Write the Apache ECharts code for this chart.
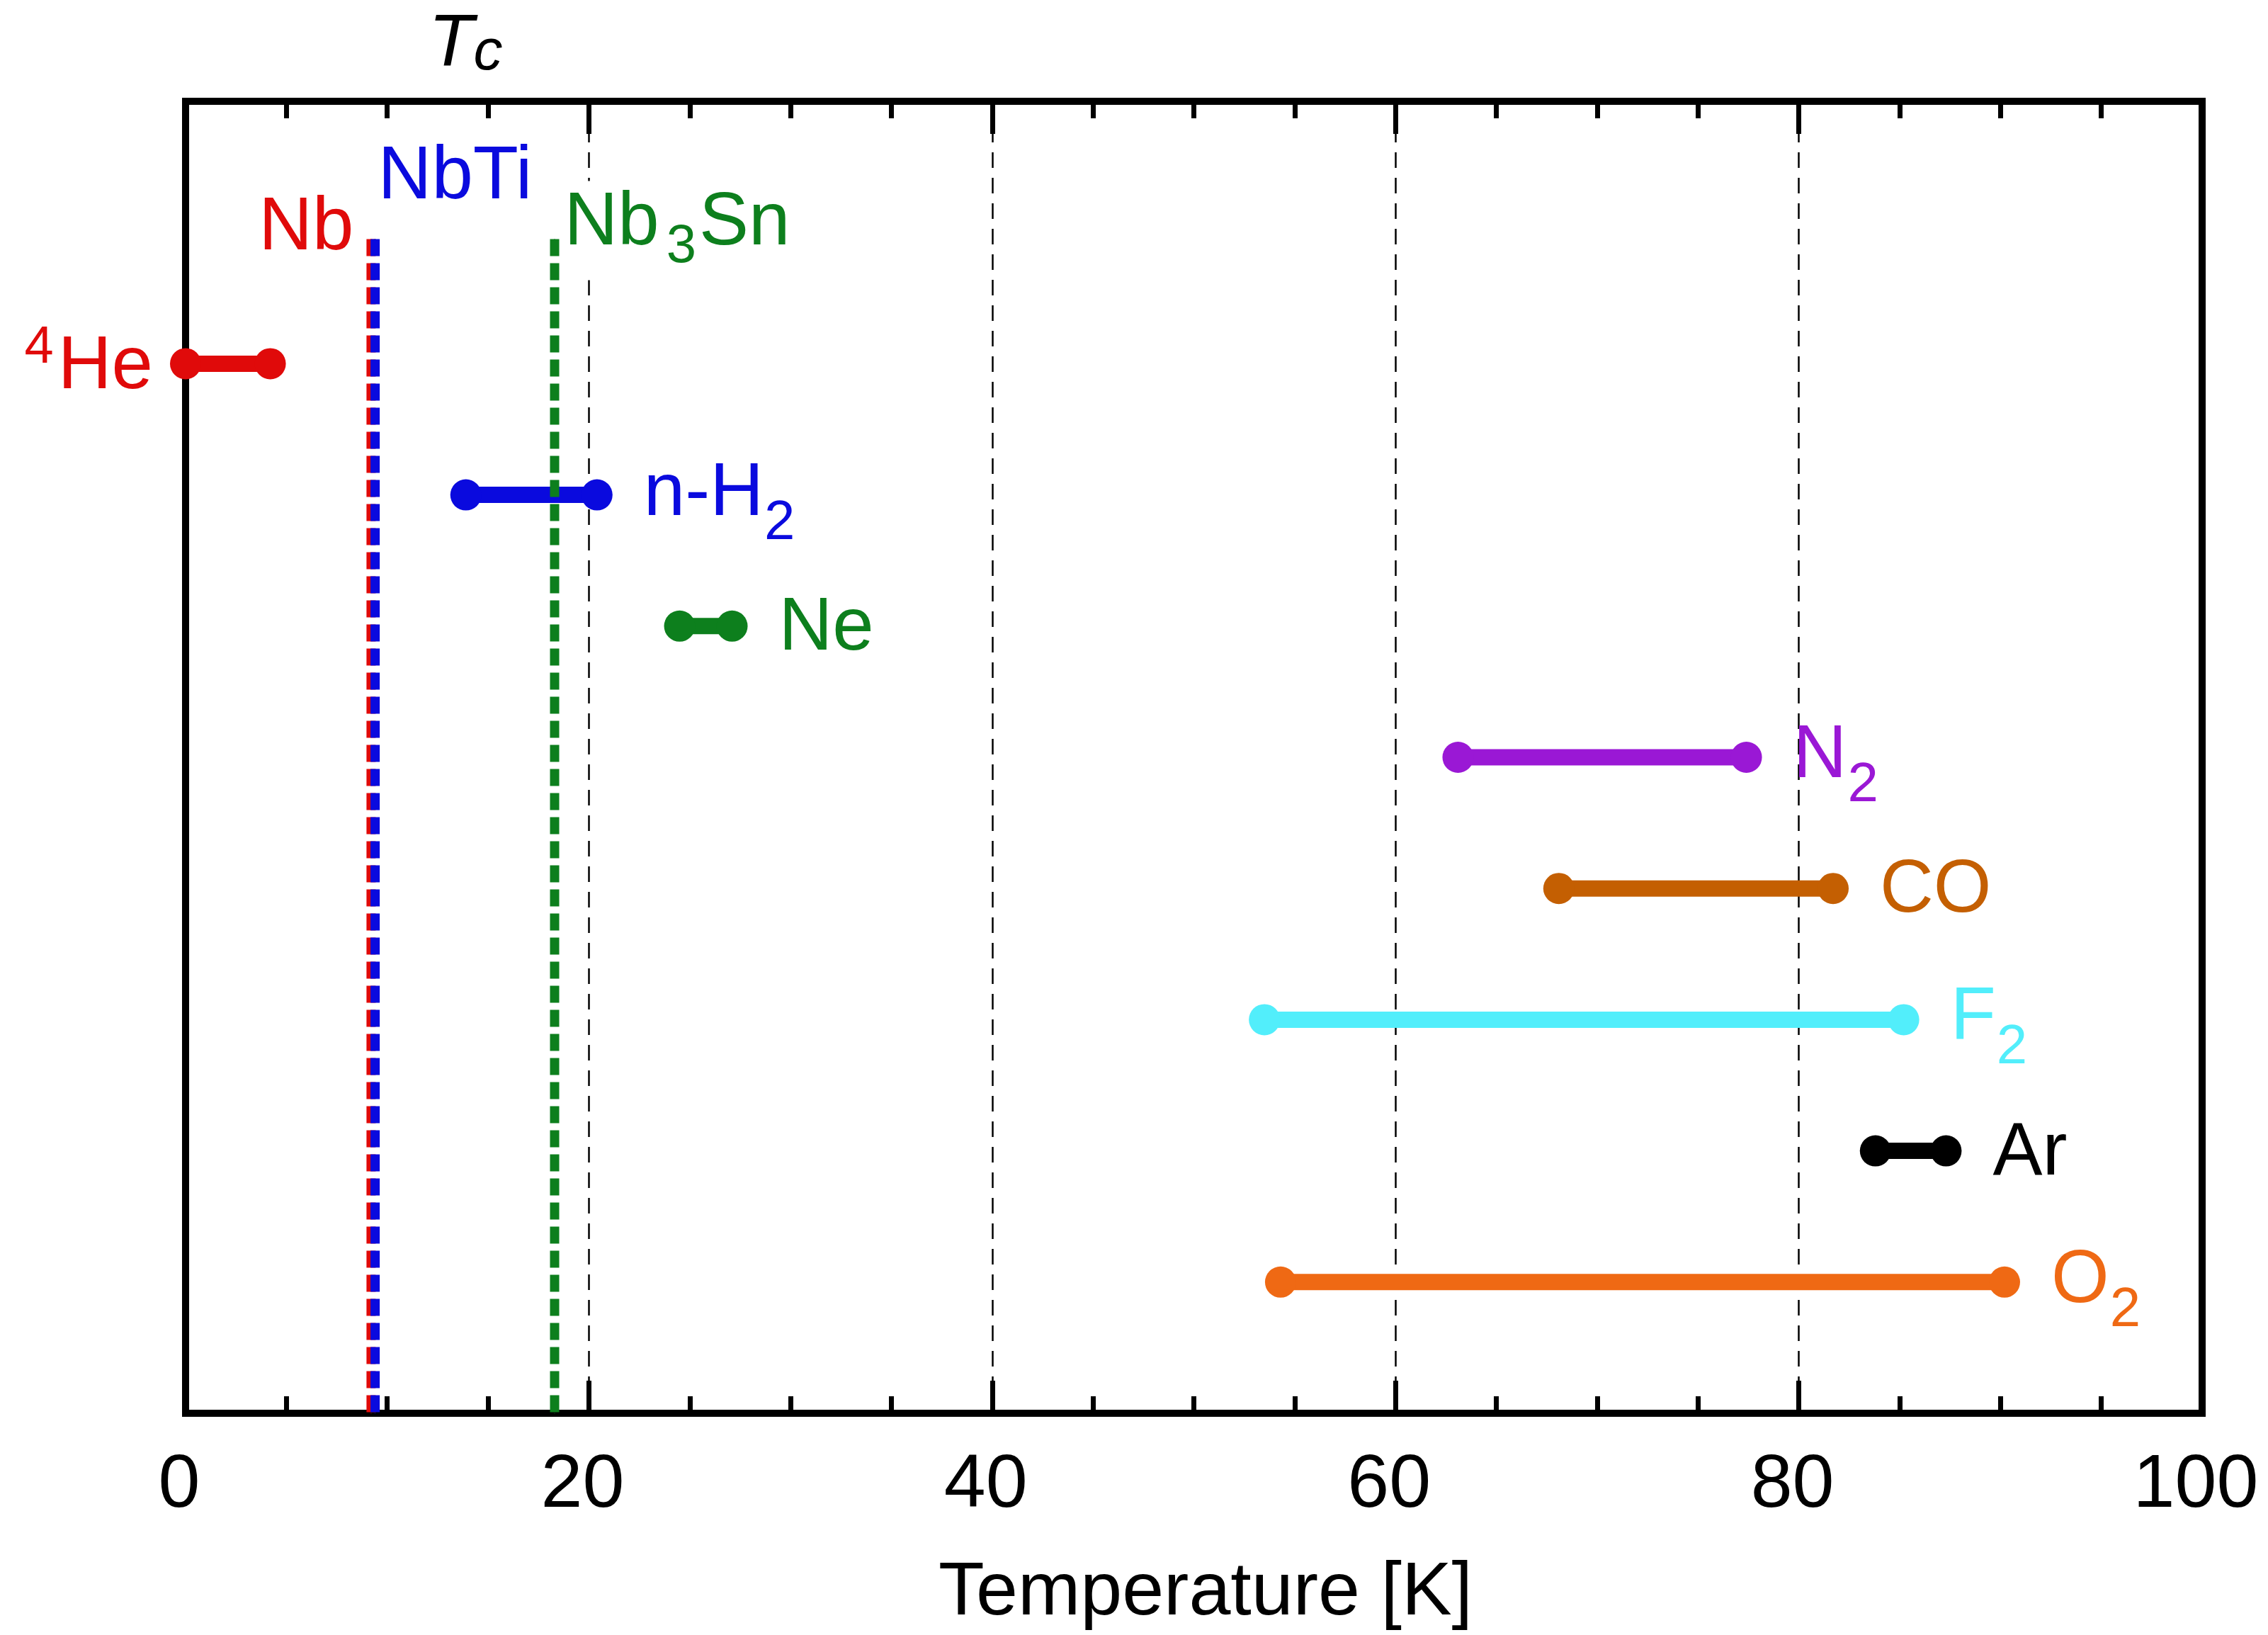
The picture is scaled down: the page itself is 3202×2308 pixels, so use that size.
<!DOCTYPE html>
<html>
<head>
<meta charset="utf-8">
<style>
html, body { margin: 0; padding: 0; background: #fff; }
#chart { width: 3202px; height: 2308px; }
</style>
<script src="https://cdn.jsdelivr.net/npm/echarts@6/dist/echarts.min.js"></script>
</head>
<body>
<div id="chart"></div>
<script>
var FONT = 'Liberation Sans';

// liquid range of each cryogen (low -> high temperature, K), one row each
var liquidNames = ['4He', 'n-H2', 'Ne', 'N2', 'CO', 'F2', 'Ar', 'O2'];
var liquidLow = [0, 13.9, 24.5, 63.1, 68.1, 53.5, 83.8, 54.3];
var liquidHigh = [4.2, 20.4, 27.1, 77.4, 81.7, 85.2, 87.3, 90.2];
var liquidRow = [8, 7, 6, 5, 4, 3, 2, 1];
var liquidColors = ['#e00a0a', '#0a0ade', '#0d7f1d', '#9a18d5', '#c45f02', '#52eefb', '#000000', '#ef6914'];

// superconductor critical temperatures (K)
var scNames = ['Nb', 'NbTi', 'Nb3Sn'];
var scTc = [9.2, 9.4, 18.3];
var scTop = 8.95;
var scColors = ['#e00a0a', '#0a0ade', '#0d7f1d'];

// x axis ticks
var xTicks = [0, 20, 40, 60, 80, 100];

// label text with sub/superscripts
var labelText = {
  '4He': '{p|4}{h|He}',
  'n-H2': '{m|n-H}{s|2}',
  'Ne': '{m|Ne}',
  'N2': '{m|N}{s|2}',
  'CO': '{m|CO}',
  'F2': '{m|F}{s|2}',
  'Ar': '{m|Ar}',
  'O2': '{m|O}{s|2}',
  'Nb': '{m|Nb}',
  'NbTi': '{m|NbTi}',
  'Nb3Sn': '{m|Nb}{t|3}{m|Sn}'
};

function richFor(color) {
  return {
    m: { fontFamily: FONT, fontSize: 105, height: 105, verticalAlign: 'top', color: color },
    h: { fontFamily: FONT, fontSize: 105, height: 105, verticalAlign: 'top', color: color, padding: [12, 0, 0, 0] },
    s: { fontFamily: FONT, fontSize: 78, height: 78, verticalAlign: 'top', color: color, padding: [55, 0, 0, 1] },
    t: { fontFamily: FONT, fontSize: 76, height: 76, verticalAlign: 'top', color: color, padding: [48, 4, 0, 10] },
    p: { fontFamily: FONT, fontSize: 74, height: 74, verticalAlign: 'top', color: color, padding: [0, 6, 0, 0] }
  };
}

var series = [];

liquidNames.forEach(function (name, i) {
  var color = liquidColors[i];
  var row = liquidRow[i];
  var hasSub = /2$/.test(name);
  var lab = {
    show: true,
    formatter: labelText[name],
    rich: richFor(color)
  };
  var p0 = [liquidLow[i], row];
  var p1 = [liquidHigh[i], row];
  if (i === 0) {
    lab.position = 'left';
    lab.distance = 24;
    p0 = { value: p0, label: lab };
  } else {
    lab.position = 'right';
    lab.distance = 44;
    lab.offset = [0, hasSub ? 13 : 4];
    p1 = { value: p1, label: lab };
  }
  series.push({
    name: name,
    type: 'line',
    clip: false,
    silent: true,
    symbol: 'circle',
    symbolSize: 44,
    lineStyle: { width: 23, color: color },
    itemStyle: { color: color },
    emphasis: { disabled: true },
    data: [p0, p1]
  });
});

var scLabels = [
  { position: 'left', distance: 24, offset: [0, -14] },
  { position: 'top', align: 'left', distance: 33, offset: [4, 0] },
  { position: 'right', distance: 7, offset: [0, -12], backgroundColor: '#fff', padding: [8, 6, 8, 6] }
];

scNames.forEach(function (name, i) {
  var color = scColors[i];
  var lab = Object.assign({
    show: true,
    formatter: labelText[name],
    rich: richFor(color)
  }, scLabels[i]);
  series.push({
    name: name,
    type: 'line',
    clip: false,
    silent: true,
    symbol: 'circle',
    symbolSize: 1,
    lineStyle: { width: 13, color: color, type: [24, 10] },
    itemStyle: { color: color },
    emphasis: { disabled: true },
    data: [{ value: [scTc[i], scTop], label: lab }, [scTc[i], 0]]
  });
});

var chart = echarts.init(document.getElementById('chart'), null, { renderer: 'canvas' });

var option = {
  animation: false,
  backgroundColor: '#fff',
  textStyle: { fontFamily: FONT },
  title: {
    text: '{a|T}{b|c}',
    left: 605,
    top: 12,
    padding: 0,
    textStyle: {
      fontWeight: 'normal',
      rich: {
        a: { fontFamily: FONT, fontStyle: 'italic', fontWeight: 'normal', fontSize: 104, height: 104, verticalAlign: 'top', color: '#000' },
        b: { fontFamily: FONT, fontStyle: 'italic', fontWeight: 'normal', fontSize: 82, height: 82, verticalAlign: 'top', color: '#000', padding: [22, 0, 0, 0] }
      }
    }
  },
  grid: {
    left: 262,
    right: 93,
    top: 143,
    bottom: 310,
    show: true,
    borderWidth: 10,
    borderColor: '#000',
    backgroundColor: 'transparent'
  },
  xAxis: [
    {
      type: 'value',
      min: xTicks[0],
      max: xTicks[xTicks.length - 1],
      interval: 20,
      name: 'Temperature [K]',
      nameLocation: 'middle',
      nameGap: 202,
      nameTextStyle: { fontFamily: FONT, fontSize: 106, color: '#000', padding: [0, 0, 0, 33] },
      axisLine: { show: false },
      axisTick: { inside: true, length: 46, lineStyle: { width: 7, color: '#000' } },
      minorTick: { show: true, splitNumber: 4, length: 24, lineStyle: { width: 7, color: '#000' } },
      axisLabel: { fontFamily: FONT, fontSize: 106, color: '#000', margin: 50, padding: [0, 18, 0, 0] },
      splitLine: { show: true, lineStyle: { color: '#000', width: 2.5, type: [22, 14] } },
      minorSplitLine: { show: false }
    },
    {
      type: 'value',
      position: 'top',
      min: xTicks[0],
      max: xTicks[xTicks.length - 1],
      interval: 20,
      axisLine: { show: false },
      axisTick: { inside: true, length: 46, lineStyle: { width: 7, color: '#000' } },
      minorTick: { show: true, splitNumber: 4, length: 24, lineStyle: { width: 7, color: '#000' } },
      axisLabel: { show: false },
      splitLine: { show: false }
    }
  ],
  yAxis: {
    type: 'value',
    min: 0,
    max: 10,
    axisLine: { show: false },
    axisTick: { show: false },
    axisLabel: { show: false },
    splitLine: { show: false }
  },
  series: series
};

chart.setOption(option);
window.addEventListener('resize', chart.resize);
</script>
</body>
</html>
